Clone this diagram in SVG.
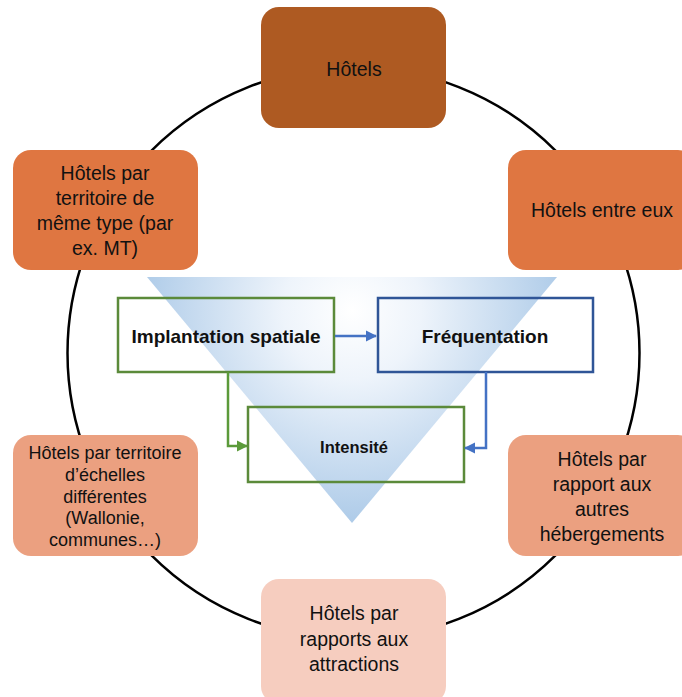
<svg xmlns="http://www.w3.org/2000/svg" width="682" height="697" viewBox="0 0 682 697">
<defs>
<radialGradient id="tri" cx="352" cy="310" r="230" gradientUnits="userSpaceOnUse">
<stop offset="0" stop-color="#ffffff"/>
<stop offset="0.3" stop-color="#eef4fb"/>
<stop offset="1" stop-color="#a6c6e6"/>
</radialGradient>
<marker id="ab" viewBox="0 0 10 10" refX="9" refY="5" markerWidth="4.5" markerHeight="4.5" orient="auto"><path d="M0,0L10,5L0,10z" fill="#4472c4"/></marker>
<marker id="ag" viewBox="0 0 10 10" refX="9" refY="5" markerWidth="4.5" markerHeight="4.5" orient="auto"><path d="M0,0L10,5L0,10z" fill="#5b9a3a"/></marker>
</defs>
<style>
text{font-family:"Liberation Sans",Arial,sans-serif;fill:#111;text-anchor:middle}
.t{font-size:19.5px}
.s{font-size:18px}
.b{font-weight:bold;font-size:19px}
.bs{font-weight:bold;font-size:16.5px}
.g{fill:none;stroke:#5b8a3a;stroke-width:2.5}
.bl{fill:none;stroke:#2f5597;stroke-width:2.5}
</style>
<circle cx="353.5" cy="353" r="286" fill="none" stroke="#000" stroke-width="2.5"/>
<polygon points="147,277 557,277 352,523" fill="url(#tri)"/>
<g id="n-top"><rect x="261" y="7" width="185" height="121" rx="18" fill="#ae5a22"/><text class="t" x="354" y="76">Hôtels</text></g>
<g id="n-ul"><rect x="13" y="150" width="185" height="120" rx="18" fill="#df7641"/>
<text class="t" x="105" y="180">Hôtels par</text><text class="t" x="105" y="205">territoire de</text><text class="t" x="105" y="230">même type (par</text><text class="t" x="105" y="255">ex. MT)</text></g>
<g id="n-ur"><rect x="508" y="150" width="188" height="120" rx="18" fill="#df7641"/><text class="t" x="602" y="217">Hôtels entre eux</text></g>
<g id="n-ll"><rect x="13" y="435" width="185" height="121" rx="18" fill="#eba080"/>
<text class="s" x="105" y="459">Hôtels par territoire</text><text class="s" x="105" y="481">d’échelles</text><text class="s" x="105" y="503">différentes</text><text class="s" x="105" y="524">(Wallonie,</text><text class="s" x="105" y="546">communes…)</text></g>
<g id="n-lr"><rect x="508" y="435" width="188" height="121" rx="18" fill="#eba080"/>
<text class="t" x="602" y="466">Hôtels par</text><text class="t" x="602" y="491">rapport aux</text><text class="t" x="602" y="516">autres</text><text class="t" x="602" y="541">hébergements</text></g>
<g id="n-bot"><rect x="261" y="579" width="185" height="125" rx="18" fill="#f6cdbf"/>
<text class="t" x="354" y="620">Hôtels par</text><text class="t" x="354" y="646">rapports aux</text><text class="t" x="354" y="671">attractions</text></g>
<g id="n-impl"><rect class="g" x="118" y="298" width="216" height="74"/><text class="b" x="226" y="343">Implantation spatiale</text></g>
<g id="n-freq"><rect class="bl" x="378" y="298" width="215" height="74"/><text class="b" x="485" y="343">Fréquentation</text></g>
<g id="n-int"><rect class="g" x="248" y="407" width="216" height="75"/><text class="bs" x="354" y="453">Intensité</text></g>
<g id="connectors">
<path d="M335,336H376" fill="none" stroke="#4472c4" stroke-width="2.5" marker-end="url(#ab)"/>
<path d="M228,372V446H247" fill="none" stroke="#5b9a3a" stroke-width="2.5" marker-end="url(#ag)"/>
<path d="M486,372V448H465" fill="none" stroke="#4472c4" stroke-width="2.5" marker-end="url(#ab)"/>
</g>
</svg>
